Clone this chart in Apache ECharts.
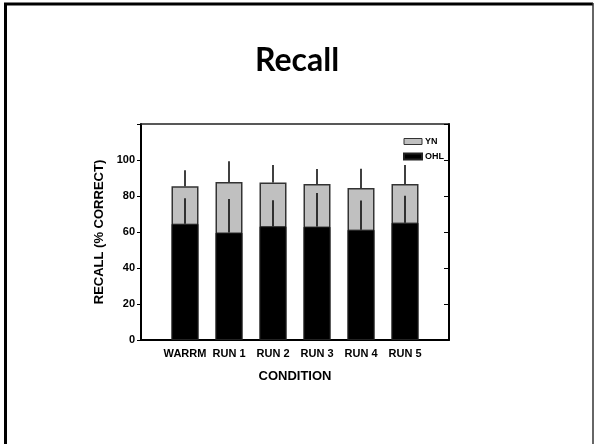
<!DOCTYPE html>
<html><head><meta charset="utf-8">
<script src="https://cdn.jsdelivr.net/npm/echarts@6/dist/echarts.min.js"></script>
<style>html,body{margin:0;padding:0;background:#fff}#c{width:594px;height:444px}</style>
</head><body><div id="c"></div>
<script>
var categories = ['WARRM', 'RUN 1', 'RUN 2', 'RUN 3', 'RUN 4', 'RUN 5'];
var ohl = [64.6, 59.7, 63.2, 63.0, 61.3, 65.2];
var yn = [20.8, 28.1, 24.3, 23.6, 23.2, 21.4];
var ohlErr = [14.2, 18.6, 14.5, 18.6, 16.2, 14.9];
var totalErr = [8.9, 11.5, 9.7, 8.4, 10.7, 10.6];
var yTicks = [0, 20, 40, 60, 80, 100];

var font = '"Liberation Sans", Arial, sans-serif';
var ohlData = categories.map(function (c, i) { return [i + 1, ohl[i]]; });
// YN segment sits on top of OHL: draw the full stack height behind the OHL bar
var totalData = categories.map(function (c, i) { return [i + 1, ohl[i] + yn[i]]; });
var errData = [];
categories.forEach(function (c, i) {
  errData.push([i + 1, ohl[i], ohl[i] + ohlErr[i]]);
  var t = ohl[i] + yn[i];
  errData.push([i + 1, t, t + totalErr[i]]);
});

var chart = echarts.init(document.getElementById('c'), null, {renderer: 'canvas'});
chart.setOption({
  animation: false,
  backgroundColor: '#fff',
  title: {
    text: 'Recall', left: 'center', top: 40,
    textStyle: {fontFamily: 'Lato, "Open Sans", sans-serif', fontWeight: 'bold', fontSize: 32, color: '#000'}
  },
  graphic: [
    {type: 'line', shape: {x1: 5.5, y1: 444, x2: 5.5, y2: 4}, style: {stroke: '#000', lineWidth: 3}},
    {type: 'line', shape: {x1: 4, y1: 4, x2: 593, y2: 4}, style: {stroke: '#000', lineWidth: 3}},
    {type: 'line', shape: {x1: 593, y1: 3, x2: 593, y2: 444}, style: {stroke: '#333', lineWidth: 1.5}}
  ],
  legend: {
    orient: 'vertical', left: 398, top: 132, itemWidth: 18, itemHeight: 6, itemGap: 6,
    icon: 'rect',
    data: [{name: 'YN', itemStyle: {color: '#c0c0c0', borderColor: '#333', borderWidth: 1}}, {name: 'OHL'}],
    textStyle: {fontFamily: font, fontWeight: 'bold', fontSize: 9, color: '#000', padding: [0, 0, 0, -2]}
  },
  grid: {left: 141, right: 145, top: 124, bottom: 104},
  xAxis: [{
    type: 'value', min: 0, max: 7, interval: 1,
    name: 'CONDITION', nameLocation: 'middle', nameGap: 30,
    nameTextStyle: {fontFamily: font, fontWeight: 'bold', fontSize: 13, color: '#000'},
    axisLine: {show: true, onZero: false, lineStyle: {color: '#000', width: 2}},
    axisTick: {show: false}, splitLine: {show: false},
    axisLabel: {fontFamily: font, fontWeight: 'bold', fontSize: 11, color: '#000', margin: 8,
      formatter: function (v) { return categories[v - 1] || ''; }}
  }, {
    type: 'value', min: 0, max: 7, position: 'top',
    axisLine: {show: true, onZero: false, lineStyle: {color: '#222', width: 1.5}},
    axisTick: {show: false}, axisLabel: {show: false}, splitLine: {show: false}
  }],
  yAxis: [{
    type: 'value', min: 0, max: 120, interval: 20,
    name: 'RECALL (% CORRECT)', nameLocation: 'middle', nameGap: 35,
    nameTextStyle: {fontFamily: font, fontWeight: 'bold', fontSize: 13, color: '#000'},
    axisLine: {show: true, onZero: false, lineStyle: {color: '#000', width: 2}},
    axisTick: {show: true, inside: false, length: 4, lineStyle: {color: '#000', width: 1}},
    splitLine: {show: false},
    axisLabel: {fontFamily: font, fontWeight: 'bold', fontSize: 11, color: '#000', margin: 6,
      formatter: function (v) { return yTicks.indexOf(v) >= 0 ? String(v) : ''; }}
  }, {
    type: 'value', min: 0, max: 120, interval: 20, position: 'right',
    axisLine: {show: true, onZero: false, lineStyle: {color: '#000', width: 2}},
    axisTick: {show: true, inside: true, length: 5, lineStyle: {color: '#000', width: 1}},
    axisLabel: {show: false}, splitLine: {show: false}
  }],
  series: [{
    name: 'YN', type: 'bar', barWidth: 27, barGap: '-100%', data: totalData, z: 2,
    itemStyle: {color: '#c0c0c0', borderColor: '#333', borderWidth: 1.5}
  }, {
    name: 'OHL', type: 'bar', barWidth: 27, barGap: '-100%', data: ohlData, z: 3,
    itemStyle: {color: '#000', borderColor: '#222', borderWidth: 1}
  }, {
    type: 'custom', data: errData, z: 5,
    renderItem: function (params, api) {
      var p0 = api.coord([api.value(0), api.value(1)]);
      var p1 = api.coord([api.value(0), api.value(2)]);
      return {type: 'line', shape: {x1: p0[0], y1: p0[1], x2: p1[0], y2: p1[1]},
        style: {stroke: '#000', lineWidth: 1.5}};
    }
  }]
});
</script></body></html>
